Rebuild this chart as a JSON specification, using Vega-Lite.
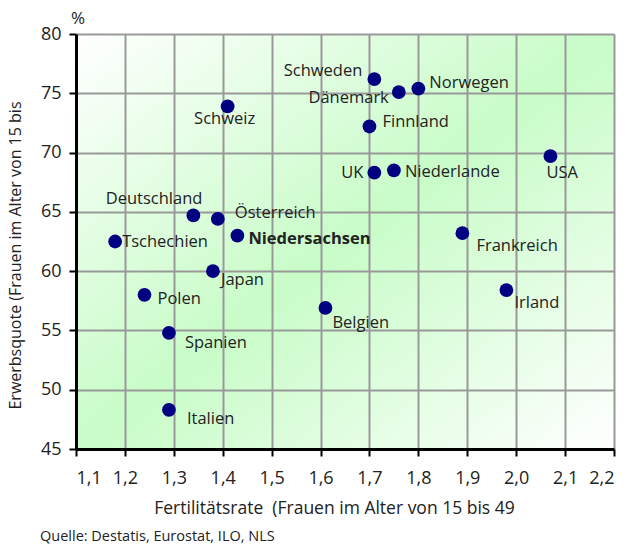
{
  "$schema": "https://vega.github.io/schema/vega-lite/v6.json",
  "width": 538,
  "height": 415,
  "autosize": "none",
  "padding": {"left": 76, "top": 34, "right": 14, "bottom": 100},
  "background": "white",
  "title": {
    "text": "%",
    "anchor": "start",
    "frame": "group",
    "dx": -5,
    "offset": -3,
    "fontSize": 17,
    "fontWeight": "normal",
    "font": "Open Sans",
    "color": "#222222"
  },
  "config": {
    "font": "Open Sans",
    "view": {
      "stroke": null,
      "fill": {
        "gradient": "linear",
        "x1": 0, "y1": 0, "x2": 1, "y2": 1,
        "stops": [
          {"offset": 0, "color": "#ffffff"},
          {"offset": 0.5, "color": "#c8fcc8"},
          {"offset": 1, "color": "#ffffff"}
        ]
      }
    },
    "axis": {
      "gridColor": "#999999",
      "gridWidth": 2,
      "gridOpacity": 1,
      "domainColor": "#000000",
      "domainWidth": 3,
      "tickColor": "#000000",
      "tickWidth": 2,
      "tickSize": 7,
      "labelFontSize": 18,
      "labelColor": "#222222",
      "titleFontSize": 18,
      "titleFontWeight": "normal",
      "titleColor": "#222222"
    },
    "text": {"fontSize": 16.5, "color": "#222222", "font": "Open Sans"}
  },
  "data": {
    "values": [
      {"land": "Schweiz", "fert": 1.41, "quote": 73.9},
      {"land": "Deutschland", "fert": 1.34, "quote": 64.7},
      {"land": "Österreich", "fert": 1.39, "quote": 64.4},
      {"land": "Niedersachsen", "fert": 1.43, "quote": 63.0},
      {"land": "Tschechien", "fert": 1.18, "quote": 62.5},
      {"land": "Japan", "fert": 1.38, "quote": 60.0},
      {"land": "Polen", "fert": 1.24, "quote": 58.0},
      {"land": "Spanien", "fert": 1.29, "quote": 54.8},
      {"land": "Italien", "fert": 1.29, "quote": 48.3},
      {"land": "Schweden", "fert": 1.71, "quote": 76.2},
      {"land": "Dänemark", "fert": 1.76, "quote": 75.1},
      {"land": "Norwegen", "fert": 1.80, "quote": 75.4},
      {"land": "Finnland", "fert": 1.70, "quote": 72.2},
      {"land": "UK", "fert": 1.71, "quote": 68.3},
      {"land": "Niederlande", "fert": 1.75, "quote": 68.5},
      {"land": "USA", "fert": 2.07, "quote": 69.7},
      {"land": "Frankreich", "fert": 1.89, "quote": 63.2},
      {"land": "Belgien", "fert": 1.61, "quote": 56.9},
      {"land": "Irland", "fert": 1.98, "quote": 58.4}
    ]
  },
  "layer": [
    {
      "encoding": {
        "x": {
          "field": "fert",
          "type": "quantitative",
          "scale": {"domain": [1.1, 2.2], "nice": false, "zero": false},
          "axis": {
            "values": [1.1, 1.2, 1.3, 1.4, 1.5, 1.6, 1.7, 1.8, 1.9, 2.0, 2.1, 2.2],
            "labelExpr": "replace(format(datum.value, '.1f'), '.', ',')",
            "labelFontSize": 18,
            "labelPadding": 13,
            "title": "Fertilitätsrate \u00a0(Frauen im Alter von 15 bis 49",
            "titleFontSize": 17.5,
            "titleX": 258,
            "titlePadding": 12
          }
        },
        "y": {
          "field": "quote",
          "type": "quantitative",
          "scale": {"domain": [45, 80], "nice": false, "zero": false},
          "axis": {
            "values": [45, 50, 55, 60, 65, 70, 75, 80],
            "labelFontSize": 18,
            "labelPadding": 8,
            "title": "Erwerbsquote (Frauen im Alter von 15 bis",
            "titleFontSize": 16,
            "titleY": 221,
            "titlePadding": 17
          }
        }
      },
      "layer": [
        {"mark": {"type": "circle", "size": 190, "color": "#000080", "opacity": 1}},
        {"transform": [{"filter": "datum.land === 'Schweiz'"}], "mark": {"type": "text", "align": "center", "baseline": "middle", "dx": -3, "dy": 13}, "encoding": {"text": {"field": "land"}}},
        {"transform": [{"filter": "datum.land === 'Deutschland'"}], "mark": {"type": "text", "align": "right", "baseline": "middle", "dx": 9, "dy": -16}, "encoding": {"text": {"field": "land"}}},
        {"transform": [{"filter": "datum.land === 'Österreich'"}], "mark": {"type": "text", "align": "left", "baseline": "middle", "dx": 17, "dy": -6}, "encoding": {"text": {"field": "land"}}},
        {"transform": [{"filter": "datum.land === 'Niedersachsen'"}], "mark": {"type": "text", "align": "left", "baseline": "middle", "dx": 11, "dy": 3, "fontWeight": "bold"}, "encoding": {"text": {"field": "land"}}},
        {"transform": [{"filter": "datum.land === 'Tschechien'"}], "mark": {"type": "text", "align": "left", "baseline": "middle", "dx": 7, "dy": 0}, "encoding": {"text": {"field": "land"}}},
        {"transform": [{"filter": "datum.land === 'Japan'"}], "mark": {"type": "text", "align": "left", "baseline": "middle", "dx": 8, "dy": 9}, "encoding": {"text": {"field": "land"}}},
        {"transform": [{"filter": "datum.land === 'Polen'"}], "mark": {"type": "text", "align": "left", "baseline": "middle", "dx": 13, "dy": 4}, "encoding": {"text": {"field": "land"}}},
        {"transform": [{"filter": "datum.land === 'Spanien'"}], "mark": {"type": "text", "align": "left", "baseline": "middle", "dx": 16, "dy": 10}, "encoding": {"text": {"field": "land"}}},
        {"transform": [{"filter": "datum.land === 'Italien'"}], "mark": {"type": "text", "align": "left", "baseline": "middle", "dx": 18, "dy": 9}, "encoding": {"text": {"field": "land"}}},
        {"transform": [{"filter": "datum.land === 'Schweden'"}], "mark": {"type": "text", "align": "right", "baseline": "middle", "dx": -12, "dy": -8}, "encoding": {"text": {"field": "land"}}},
        {"transform": [{"filter": "datum.land === 'Dänemark'"}], "mark": {"type": "text", "align": "right", "baseline": "middle", "dx": -10, "dy": 6}, "encoding": {"text": {"field": "land"}}},
        {"transform": [{"filter": "datum.land === 'Norwegen'"}], "mark": {"type": "text", "align": "left", "baseline": "middle", "dx": 11, "dy": -6}, "encoding": {"text": {"field": "land"}}},
        {"transform": [{"filter": "datum.land === 'Finnland'"}], "mark": {"type": "text", "align": "left", "baseline": "middle", "dx": 13, "dy": -4}, "encoding": {"text": {"field": "land"}}},
        {"transform": [{"filter": "datum.land === 'UK'"}], "mark": {"type": "text", "align": "right", "baseline": "middle", "dx": -11, "dy": 0}, "encoding": {"text": {"field": "land"}}},
        {"transform": [{"filter": "datum.land === 'Niederlande'"}], "mark": {"type": "text", "align": "left", "baseline": "middle", "dx": 11, "dy": 2}, "encoding": {"text": {"field": "land"}}},
        {"transform": [{"filter": "datum.land === 'USA'"}], "mark": {"type": "text", "align": "left", "baseline": "middle", "dx": -4, "dy": 17}, "encoding": {"text": {"field": "land"}}},
        {"transform": [{"filter": "datum.land === 'Frankreich'"}], "mark": {"type": "text", "align": "left", "baseline": "middle", "dx": 14, "dy": 13}, "encoding": {"text": {"field": "land"}}},
        {"transform": [{"filter": "datum.land === 'Belgien'"}], "mark": {"type": "text", "align": "left", "baseline": "middle", "dx": 7, "dy": 15}, "encoding": {"text": {"field": "land"}}},
        {"transform": [{"filter": "datum.land === 'Irland'"}], "mark": {"type": "text", "align": "left", "baseline": "middle", "dx": 8, "dy": 13}, "encoding": {"text": {"field": "land"}}}
      ]
    },
    {
      "data": {"values": [{"quelle": "Quelle: Destatis, Eurostat, ILO, NLS"}]},
      "mark": {"type": "text", "align": "left", "baseline": "middle", "dx": -36, "dy": 88, "fontSize": 14.5},
      "encoding": {
        "x": {"datum": 1.1, "type": "quantitative"},
        "y": {"datum": 45, "type": "quantitative"},
        "text": {"field": "quelle"}
      }
    }
  ]
}
